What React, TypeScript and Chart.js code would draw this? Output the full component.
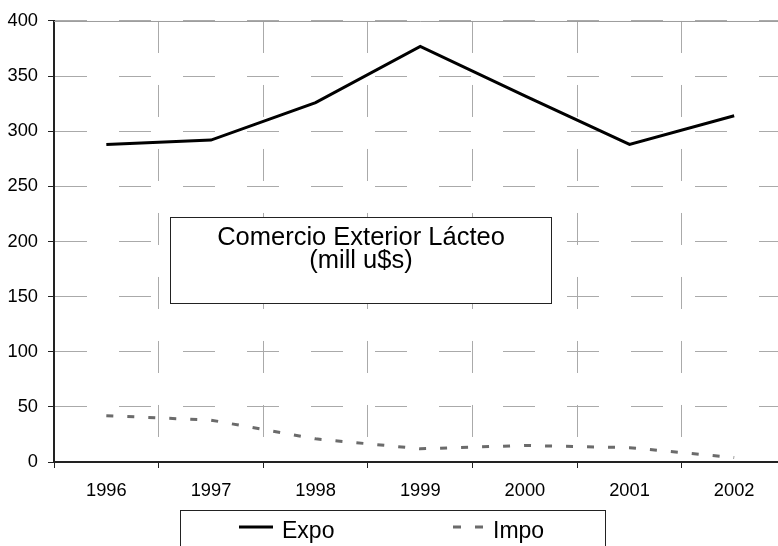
import React, { useEffect, useRef } from "react";
import { Chart, registerables } from "chart.js";

Chart.register(...registerables);

const years = ["1996", "1997", "1998", "1999", "2000", "2001", "2002"];
const expo = [288, 292, 326, 377, 332, 288, 314];
const impo = [42, 38, 21, 12, 15, 13, 4];
const seriesNames = ["Expo", "Impo"];
const titleLines = ["Comercio Exterior Lácteo", "(mill u$s)"];
const yMin = 0;
const yMax = 400;
const yStep = 50;

const FONT = "'Liberation Sans', Arial, sans-serif";

const framePlugin = {
  id: "frame",
  beforeDatasetsDraw(chart: any) {
    const { ctx, chartArea } = chart;
    ctx.save();
    ctx.strokeStyle = "#9c9c9c";
    ctx.lineWidth = 1;
    ctx.setLineDash([]);
    ctx.beginPath();
    ctx.moveTo(chartArea.left, chartArea.top + 0.5);
    ctx.lineTo(chartArea.right, chartArea.top + 0.5);
    ctx.stroke();
    ctx.restore();
  },
};

const titleBoxPlugin = {
  id: "titleBox",
  afterDatasetsDraw(chart: any) {
    const { ctx } = chart;
    const x = 170.5, y = 217.5, w = 381, h = 86;
    ctx.save();
    ctx.fillStyle = "#ffffff";
    ctx.fillRect(x, y, w, h);
    ctx.strokeStyle = "#222";
    ctx.lineWidth = 1;
    ctx.strokeRect(x, y, w, h);
    ctx.fillStyle = "#000";
    ctx.font = `25.5px ${FONT}`;
    ctx.textAlign = "center";
    ctx.textBaseline = "alphabetic";
    const cx = x + w / 2;
    ctx.fillText(titleLines[0], cx, 245);
    ctx.fillText(titleLines[1], cx, 268);
    ctx.restore();
  },
};

const legendBoxPlugin = {
  id: "legendBox",
  afterDraw(chart: any) {
    const { ctx } = chart;
    const ds = chart.data.datasets;
    const x = 180.5, y = 510.5, w = 425, h = 60;
    ctx.save();
    ctx.fillStyle = "#ffffff";
    ctx.fillRect(x, y, w, h);
    ctx.strokeStyle = "#222";
    ctx.lineWidth = 1;
    ctx.strokeRect(x, y, w, h);
    const items = [
      { sx: 239, tx: 282 },
      { sx: 453, tx: 493 },
    ];
    ds.forEach((d: any, i: number) => {
      const it = items[i];
      ctx.save();
      ctx.strokeStyle = d.borderColor;
      ctx.lineWidth = 3;
      ctx.setLineDash(i === 0 ? [] : [8, 14]);
      ctx.beginPath();
      ctx.moveTo(it.sx, 527);
      ctx.lineTo(it.sx + (i === 0 ? 34 : 30), 527);
      ctx.stroke();
      ctx.restore();
      ctx.fillStyle = "#000";
      ctx.font = `23px ${FONT}`;
      ctx.textAlign = "left";
      ctx.textBaseline = "alphabetic";
      ctx.fillText(d.label, it.tx, 538);
    });
    ctx.restore();
  },
};

export default function App() {
  const ref = useRef<HTMLCanvasElement>(null);

  useEffect(() => {
    if (!ref.current) return;
    Chart.defaults.font.family = FONT;
    const chart = new Chart(ref.current, {
      type: "line",
      data: {
        labels: years,
        datasets: [
          {
            label: seriesNames[0],
            data: expo,
            borderColor: "#000000",
            borderWidth: 3,
            pointRadius: 0,
            fill: false,
            tension: 0,
          },
          {
            label: seriesNames[1],
            data: impo,
            borderColor: "#6b6b6b",
            borderWidth: 3,
            borderDash: [7, 14],
            pointRadius: 0,
            fill: false,
            tension: 0,
          },
        ],
      },
      options: {
        responsive: false,
        animation: false,
        events: [],
        layout: { padding: { top: 19, left: 0, right: 13.5, bottom: 0 } },
        plugins: {
          legend: { display: false },
          title: { display: false },
          tooltip: { enabled: false },
        },
        scales: {
          x: {
            type: "category",
            offset: true,
            grid: {
              offset: true,
              color: "#aaaaaa",
              lineWidth: 1,
              tickColor: "#222",
              tickLength: 6,
              tickWidth: 1,
            },
            border: { display: true, color: "#222", width: 2, dash: [32, 32] },
            ticks: {
              color: "#000",
              font: { size: 18.3, family: FONT },
              padding: 12,
              maxRotation: 0,
            },
            afterFit: (scale: any) => {
              scale.height = 84;
            },
          },
          y: {
            min: yMin,
            max: yMax,
            grid: {
              color: "#aaaaaa",
              lineWidth: 1,
              tickColor: "#222",
              tickLength: 6,
              tickWidth: 1,
            },
            border: { display: true, color: "#222", width: 2, dash: [32, 32] },
            ticks: {
              stepSize: yStep,
              color: "#000",
              font: { size: 18.3, family: FONT },
              padding: 10,
            },
            afterFit: (scale: any) => {
              scale.width = 54;
            },
          },
        },
      },
      plugins: [framePlugin, titleBoxPlugin, legendBoxPlugin],
    });
    return () => chart.destroy();
  }, []);

  return (
    <div
      style={{
        position: "fixed",
        left: 0,
        top: 0,
        width: 778,
        height: 546,
        overflow: "hidden",
        background: "#ffffff",
      }}
    >
      <canvas ref={ref} width={800} height={546} style={{ display: "block" }} />
    </div>
  );
}
